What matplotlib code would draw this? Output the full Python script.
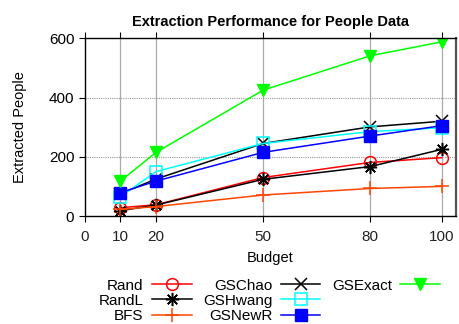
import matplotlib
matplotlib.use("Agg")
import matplotlib.pyplot as plt
from matplotlib.lines import Line2D

plt.rcParams['font.family'] = ['Liberation Sans', 'DejaVu Sans']

# data
budget = [10, 20, 50, 80, 100]
rand = [28, 38, 130, 181, 197]
randl = [18, 37, 124, 167, 225]
bfs = [22, 32, 71, 93, 100]
gschao = [75, 125, 245, 301, 320]
gshwang = [65, 150, 245, 285, 298]
gsnewr = [79, 118, 215, 270, 305]
gsexact = [118, 215, 425, 541, 588]

fig = plt.figure(figsize=(4.59, 3.24), dpi=100)
ax = fig.add_axes([0.1845, 0.3333, 0.809, 0.5485])

ax.plot(budget, rand, color='#ff0000', marker='o', mfc='none', ms=8.5, mew=1.1, lw=1.1, label='Rand')
ax.plot(budget, randl, color='black', marker=(8, 2, 0), ms=9.5, mew=1.1, lw=1.1, label='RandL')
ax.plot(budget, bfs, color='#ff4500', marker='+', ms=9.5, mew=1.1, lw=1.1, label='BFS')
ax.plot(budget, gschao, color='black', marker='x', ms=8.5, mew=1.1, lw=1.1, label='GSChao')
ax.plot(budget, gshwang, color='#00ffff', marker='s', mfc='none', ms=8.5, mew=1.1, lw=1.1, label='GSHwang')
ax.plot(budget, gsnewr, color='#0000ff', marker='s', ms=8.5, lw=1.1, label='GSNewR')
ax.plot(budget, gsexact, color='#00ff00', marker='v', ms=8.5, lw=1.1, label='GSExact')

ax.set_xlim(0, 104)
ax.set_ylim(0, 600)
ax.set_xticks([0, 10, 20, 50, 80, 100])
ax.set_yticks([0, 200, 400, 600])
ax.tick_params(direction='out', labelsize=11, length=4, width=0.8, top=True)
ax.tick_params(axis='x', pad=6)
for lbl in ax.get_xticklabels():
    lbl.set_color('#222222')

# grid: vertical solid gray (not at 0), horizontal dotted
for xv in budget:
    ax.axvline(xv, color='#aaaaaa', lw=0.9, zorder=0)
for yv in [200, 400]:
    ax.axhline(yv, color='#999999', lw=0.8, ls=(0, (1, 1)), zorder=0)

for s in ['left', 'bottom', 'top']:
    ax.spines[s].set_linewidth(1.0)
ax.spines['right'].set_color('#555555')
ax.spines['right'].set_linewidth(1.6)

ax.set_title('Extraction Performance for People Data', fontsize=10.5, fontweight='bold', pad=9)
ax.set_xlabel('Budget', fontsize=10.5, labelpad=5)
ax.set_ylabel('Extracted People', fontsize=10.5, labelpad=16)

handles, labels = ax.get_legend_handles_labels()
handles.append(Line2D([], [], color='none'))
labels.append('')
fig.legend(handles, labels, ncol=3, markerfirst=False, frameon=False,
           fontsize=11, handlelength=2.6, handletextpad=0.55, columnspacing=0.75,
           labelspacing=0.08, loc='lower right', bbox_to_anchor=(0.982, -0.03),
           borderpad=0.2)

fig.savefig('out.png', dpi=100)
